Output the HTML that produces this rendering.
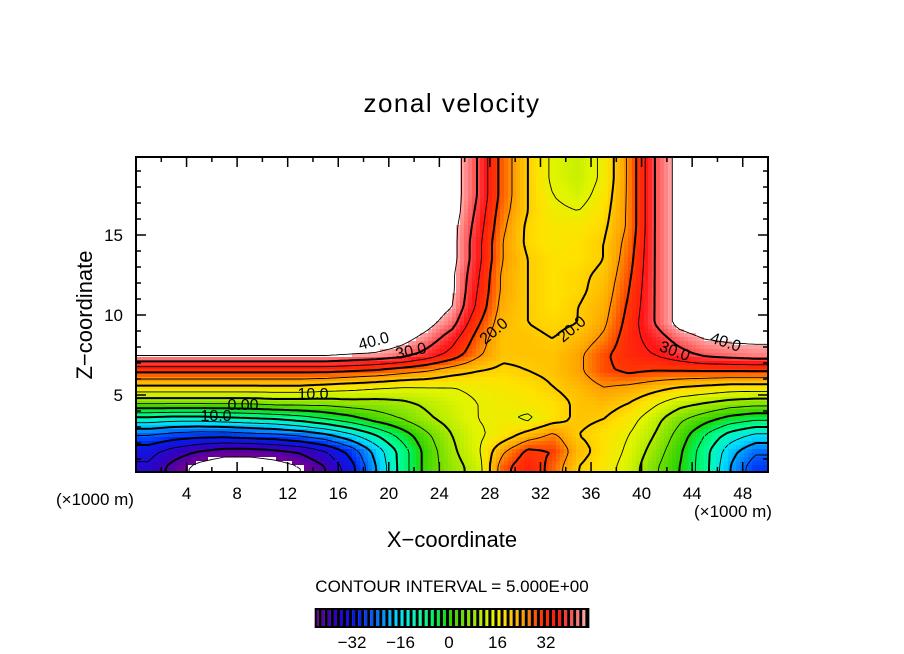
<!DOCTYPE html>
<html><head><meta charset="utf-8"><style>
html,body{margin:0;padding:0;background:#fff;}
svg{display:block;font-family:"Liberation Sans",sans-serif;}
</style></head><body>
<svg id="chart" width="904" height="654" viewBox="0 0 904 654" xmlns="http://www.w3.org/2000/svg">
<rect x="0" y="0" width="904" height="654" fill="#fff"/>
<text x="452" y="112" font-size="26" text-anchor="middle" letter-spacing="1.5">zonal velocity</text>
<g id="field"></g>
<g id="contours"></g>
<g id="labels" font-size="16" fill="#000"></g>
<rect x="136" y="157" width="632" height="315" fill="none" stroke="#000" stroke-width="2"/>
<g id="ticks" stroke="#000" stroke-width="1.5"></g>
<g id="ticklabels" font-size="17" fill="#000"></g>
<text x="95" y="505" font-size="17" text-anchor="middle">(×1000 m)</text>
<text x="733" y="517" font-size="17" text-anchor="middle">(×1000 m)</text>
<text x="452" y="547" font-size="22" text-anchor="middle">X−coordinate</text>
<text transform="translate(92,315) rotate(-90)" font-size="22" text-anchor="middle">Z−coordinate</text>
<text x="452" y="592" font-size="17" text-anchor="middle">CONTOUR INTERVAL = 5.000E+00</text>
<g id="cbar"></g>
</svg>
<script>
const xCenters=[1,3,5,7,9,11,13,15,17,19,21,23,25,27,29,31,33,35,37,39,41,43,45,47,49];
const zCenters=[19.5,18.5,17.5,16.5,15.5,14.5,13.5,12.5,11.5,10.5,9.5,8.5,7.5,6.5,5.5,4.5,3.5,2.5,1.5,0.5];
const W=50;
const row195=[W,W,W,W,W,W,W,W,W,W,W,W,48,40,28,20,14,12,16,26,40,47,W,W,W];
const row185=[W,W,W,W,W,W,W,W,W,W,W,W,48,40,28,20,14,12,16,26,40,47,W,W,W];
const row175=[W,W,W,W,W,W,W,W,W,W,W,W,48,40,28,20,15,13,17,26,40,47,W,W,W];
const row165=[W,W,W,W,W,W,W,W,W,W,W,W,48,39,27,20,16,15,18,26,40,47,W,W,W];
const row155=[W,W,W,W,W,W,W,W,W,W,W,W,47,38,26,19,17,17,19,26,40,47,W,W,W];
const row145=[W,W,W,W,W,W,W,W,W,W,W,W,47,37,25,19,17,18,20,27,40,47,W,W,W];
const row135=[W,W,W,W,W,W,W,W,W,W,W,W,47,37,25,20,18,18,20,28,40,47,W,W,W];
const row125=[W,W,W,W,W,W,W,W,W,W,W,W,46,36,24,20,18,19,21,29,40,47,W,W,W];
const row115=[W,W,W,W,W,W,W,W,W,W,W,W,46,35,24,20,18,19,22,30,40,47,W,W,W];
const row105=[W,W,W,W,W,W,W,W,W,W,W,49,45,34,23,20,18,20,23,31,40,47,W,W,W];
const row95=[W,W,W,W,W,W,W,W,W,W,W,47,42,31,22,20,19,20,24,32,40,47,W,W,W];
const row85=[W,W,W,W,W,W,W,W,W,W,47,43,37,28,21,21,20,22,26,33,37,42,45,46,46];
const row75=[46,46,46,46,46,46,46,46,45,44,42,38,33,26,21,21,21,24,29,33,35,38,41,42,43];
const row65=[31,31,31,31,31,31,31,31,30,29,27,25,22,20,19,20,21,24,29,31,30,30,30,30,30];
const row55=[19,19,19,19,19,19,19,18,17,16,15,15,15,16,17,18,20,22,25,24,22,20,19,18,18];
const row45=[6,6,6,6,6,7,7,7,8,8,9,11,13,15,16,17,18,21,22,20,16,12,10,8,7];
const row35=[-12,-13,-13,-12,-11,-10,-8,-5,-2,2,5,9,12,15,16,14,18,21,20,17,12,6,2,-2,-4];
const row25=[-25,-27,-28,-28,-27,-26,-24,-21,-16,-10,-3,4,10,14,17,22,26,20,18,15,10,3,-5,-12,-16];
const row15=[-33,-37,-40,-42,-42,-41,-39,-35,-28,-18,-8,2,9,14,24,31,30,22,18,14,8,1,-8,-18,-24];
const row05=[-36,-42,-47,-50,-50,-48,-45,-40,-32,-20,-8,2,8,12,28,34,28,20,17,13,6,0,-8,-20,-28];
const rows=[row195,row185,row175,row165,row155,row145,row135,row125,row115,row105,row95,row85,row75,row65,row55,row45,row35,row25,row15,row05];
const xTicks=[4,8,12,16,20,24,28,32,36,40,44,48];
const zTicks=[5,10,15];
const cbarTicks=[-32,-16,0,16,32];
const levels=[-45,-40,-35,-30,-25,-20,-15,-10,-5,0,5,10,15,20,25,30,35,40,45];

const NS="http://www.w3.org/2000/svg";
const X0=136,X1=768,Y0=157,Y1=472;
const sx=v=>136+12.64*v;
const sz=v=>475-16*v;
const ix=px=>(px-136)/12.64;
const iz=py=>(475-py)/16;

function sample(x,z){
  let fx=(x-xCenters[0])/(xCenters[1]-xCenters[0]);
  fx=Math.max(0,Math.min(xCenters.length-1,fx));
  let fz=(zCenters[0]-z)/(zCenters[0]-zCenters[1]);
  fz=Math.max(0,Math.min(zCenters.length-1,fz));
  const i0=Math.min(Math.floor(fx),xCenters.length-2),j0=Math.min(Math.floor(fz),zCenters.length-2);
  const tx=fx-i0,tz=fz-j0;
  const a=rows[j0][i0],b=rows[j0][i0+1],c=rows[j0+1][i0],d=rows[j0+1][i0+1];
  return a*(1-tx)*(1-tz)+b*tx*(1-tz)+c*(1-tx)*tz+d*tx*tz;
}
const stops=[[-44,[110,0,150]],[-38,[50,0,190]],[-30,[0,30,240]],[-24,[0,110,255]],[-17,[0,220,255]],[-10,[0,255,170]],[-4,[0,240,80]],[0,[40,210,0]],[8,[150,230,0]],[14,[225,245,0]],[18,[255,225,0]],[24,[255,165,0]],[30,[255,60,0]],[36,[255,20,20]],[41,[255,90,90]],[45,[255,170,170]]];
function color(v){
  if(v>=45||v<=-44.5) return "#ffffff";
  if(v<=stops[0][0]) return "rgb(110,0,150)";
  for(let k=0;k<stops.length-1;k++){
    const [v0,c0]=stops[k],[v1,c1]=stops[k+1];
    if(v<=v1){const t=(v-v0)/(v1-v0);
      return "rgb("+c0.map((c,i)=>Math.round(c+(c1[i]-c)*t)).join(",")+")";}
  }
  return "rgb(255,170,170)";
}
const field=document.getElementById('field');
const STEP=4;
const nx=Math.ceil((X1-X0)/STEP),ny=Math.ceil((Y1-Y0)/STEP);
for(let j=0;j<ny;j++){
  for(let i=0;i<nx;i++){
    const px=X0+i*STEP,py=Y0+j*STEP;
    const w=Math.min(STEP,X1-px),h=Math.min(STEP,Y1-py);
    const v=sample(ix(px+w/2),iz(py+h/2));
    const r=document.createElementNS(NS,'rect');
    r.setAttribute('x',px);r.setAttribute('y',py);
    r.setAttribute('width',w+0.4);r.setAttribute('height',h+0.4);
    r.setAttribute('fill',color(v));
    
    
    field.appendChild(r);
  }
}
const gx=[],gy=[];
for(let i=0;i<=nx;i++)gx.push(Math.min(X0+i*STEP,X1));
for(let j=0;j<=ny;j++)gy.push(Math.min(Y0+j*STEP,Y1));
const G=gy.map(py=>gx.map(px=>sample(ix(px),iz(py))));
const cg=document.getElementById('contours');
levels.forEach(L=>{
  let d="";
  for(let j=0;j<ny;j++)for(let i=0;i<nx;i++){
    const a=G[j][i],b=G[j][i+1],c=G[j+1][i+1],e=G[j+1][i];
    const pts=[];
    const ed=(v1,v2,x1,y1,x2,y2)=>{if((v1<L)!==(v2<L)){const t=(L-v1)/(v2-v1);pts.push([x1+(x2-x1)*t,y1+(y2-y1)*t]);}};
    ed(a,b,gx[i],gy[j],gx[i+1],gy[j]);
    ed(b,c,gx[i+1],gy[j],gx[i+1],gy[j+1]);
    ed(c,e,gx[i+1],gy[j+1],gx[i],gy[j+1]);
    ed(e,a,gx[i],gy[j+1],gx[i],gy[j]);
    for(let k=0;k+1<pts.length;k+=2)d+="M"+pts[k][0].toFixed(1)+" "+pts[k][1].toFixed(1)+"L"+pts[k+1][0].toFixed(1)+" "+pts[k+1][1].toFixed(1);
  }
  if(!d)return;
  const p=document.createElementNS(NS,'path');
  p.setAttribute('d',d);p.setAttribute('fill','none');p.setAttribute('stroke','#000');
  p.setAttribute('stroke-width',L%10===0?2:0.9);
  if(L<0)p.setAttribute('stroke-dasharray',L%10===0?'6,4':'4,4');
  
  
  cg.appendChild(p);
});
const lab=[["40.0",375,346,-15],["30.0",412,356,-12],["20.0",497,335,-40],["20.0",575,333,-40],["30.0",673,356,20],["40.0",724,347,18],["10.0",313,399,0],["0.00",243,410,0],["10.0",216,421,0]];
const lg=document.getElementById('labels');
lab.forEach(l=>{
  const t=document.createElementNS(NS,'text');
  t.setAttribute('transform','translate('+l[1]+','+l[2]+') rotate('+l[3]+')');
  t.setAttribute('text-anchor','middle');
  t.textContent=l[0];
  
  
  lg.appendChild(t);
});
const tg=document.getElementById('ticks'),tl=document.getElementById('ticklabels');
function line(x1,y1,x2,y2,name){const l=document.createElementNS(NS,'line');l.setAttribute('x1',x1);l.setAttribute('y1',y1);l.setAttribute('x2',x2);l.setAttribute('y2',y2);
  
  
  tg.appendChild(l);}
for(let v=2;v<50;v+=2){const x=sx(v),len=(v%4===0)?10:5;line(x,Y1,x,Y1-len,'x-tick');line(x,Y0,x,Y0+len,'x-tick');}
for(let v=1;v<20;v++){const y=sz(v);if(y<=Y0||y>=Y1)continue;const len=(v%5===0)?10:5;line(X0,y,X0+len,y,'z-tick');line(X1,y,X1-len,y,'z-tick');}
xTicks.forEach(v=>{const t=document.createElementNS(NS,'text');t.setAttribute('x',sx(v));t.setAttribute('y',499);t.setAttribute('text-anchor','middle');t.textContent=v;
  
  
  tl.appendChild(t);});
zTicks.forEach(v=>{const t=document.createElementNS(NS,'text');t.setAttribute('x',123);t.setAttribute('y',sz(v)+6);t.setAttribute('text-anchor','end');t.textContent=v;
  
  
  tl.appendChild(t);});
const cb=document.getElementById('cbar');
const cbx=v=>449+3.03*v;
for(let v=-44;v<46;v++){
  const r=document.createElementNS(NS,'rect');
  r.setAttribute('x',cbx(v));r.setAttribute('y',609);r.setAttribute('width',3.1);r.setAttribute('height',18);
  r.setAttribute('fill',v%2===0?color(v+0.5):'#000');
  
  
  cb.appendChild(r);
}
const fr=document.createElementNS(NS,'rect');
fr.setAttribute('x',cbx(-44));fr.setAttribute('y',609);fr.setAttribute('width',cbx(46)-cbx(-44));fr.setAttribute('height',18);
fr.setAttribute('fill','none');fr.setAttribute('stroke','#000');fr.setAttribute('stroke-width',2);


cb.appendChild(fr);
cbarTicks.forEach(v=>{const t=document.createElementNS(NS,'text');t.setAttribute('x',cbx(v));t.setAttribute('y',648);t.setAttribute('text-anchor','middle');t.setAttribute('font-size','17');t.textContent=(v<0?'−'+(-v):v);
  
  
  cb.appendChild(t);});
</script>
</body></html>
